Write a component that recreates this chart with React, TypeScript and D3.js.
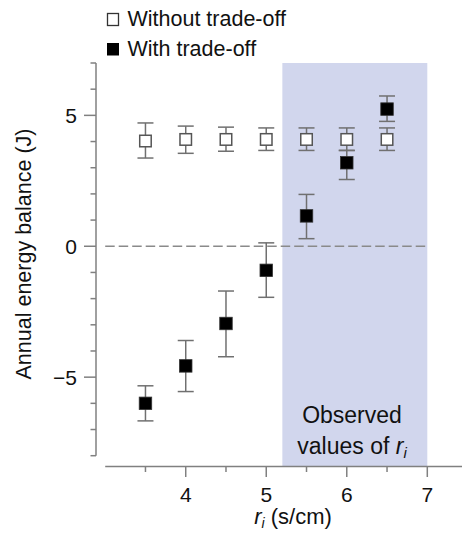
import React from "react";
import * as d3 from "d3";

const xValues = [3.5, 4.0, 4.5, 5.0, 5.5, 6.0, 6.5];
const withoutMean = [4.02, 4.08, 4.08, 4.08, 4.08, 4.08, 4.08];
const withoutLow = [3.37, 3.55, 3.63, 3.66, 3.66, 3.66, 3.66];
const withoutHigh = [4.71, 4.59, 4.55, 4.52, 4.52, 4.52, 4.52];
const withMean = [-6.0, -4.57, -2.95, -0.92, 1.16, 3.19, 5.24];
const withLow = [-6.67, -5.55, -4.22, -1.95, 0.29, 2.55, 4.77];
const withHigh = [-5.33, -3.6, -1.71, 0.13, 1.98, 3.66, 5.74];
const xMajorTicks = [4, 5, 6, 7];
const xMinorTicks = [3.5, 4.5, 5.5, 6.5];
const yMajorTicks = [-5, 0, 5];
const shadeRange = [5.2, 7.0];
const legendLabels = ["Without trade-off", "With trade-off"];

const W = 462;
const H = 539;
const FONT = "'Liberation Sans', Arial, Helvetica, sans-serif";

export default function App() {
  const x = d3.scaleLinear().domain([3, 7]).range([105.2, 427.3]);
  const y = d3.scaleLinear().domain([-8, 7]).range([455.7, 63]);
  const yMinor = d3.range(-8, 8);
  const axisColor = "#808080";
  const errColor = "#707070";
  const capW = 16;
  const sq = 12.5;
  const xAxisY = 466.5;
  const yAxisX = 96;

  const renderErr = (i: number, lo: number[], hi: number[], key: string) => {
    const cx = x(xValues[i]);
    return (
      <g key={key}>
        <line x1={cx} x2={cx} y1={y(lo[i])} y2={y(hi[i])} stroke={errColor} strokeWidth={1.5} />
        <line x1={cx - capW / 2} x2={cx + capW / 2} y1={y(lo[i])} y2={y(lo[i])} stroke={errColor} strokeWidth={1.5} />
        <line x1={cx - capW / 2} x2={cx + capW / 2} y1={y(hi[i])} y2={y(hi[i])} stroke={errColor} strokeWidth={1.5} />
      </g>
    );
  };

  return (
    <svg width={W} height={H} style={{ position: "absolute", left: 0, top: 0 }} fontFamily={FONT}>
      <rect width={W} height={H} fill="#fff" />
      {/* shaded region */}
      <rect
        x={x(shadeRange[0])}
        y={y(7)}
        width={x(shadeRange[1]) - x(shadeRange[0])}
        height={xAxisY - y(7)}
        fill="#d1d6ed"
      />
      {/* zero dashed line */}
      <line x1={x(3)} x2={x(7)} y1={y(0)} y2={y(0)} stroke="#8a8a8a" strokeWidth={1.5} strokeDasharray="9.5,4" />

      {/* y axis */}
      <line x1={yAxisX} x2={yAxisX} y1={y(7)} y2={y(-8)} stroke={axisColor} strokeWidth={1.5} />
      {yMinor.map((v) => (
        <line
          key={"ym" + v}
          x1={yMajorTicks.includes(v) ? yAxisX - 12 : yAxisX - 5.5}
          x2={yAxisX}
          y1={y(v)}
          y2={y(v)}
          stroke={axisColor}
          strokeWidth={1.5}
        />
      ))}
      {yMajorTicks.map((v) => (
        <text key={"yl" + v} x={yAxisX - 19} y={y(v)} dy="0.36em" textAnchor="end" fontSize={21} fill="#111">
          {v < 0 ? "\u2212" + Math.abs(v) : v}
        </text>
      ))}
      <text
        transform={`translate(23.5, ${254}) rotate(-90)`}
        textAnchor="middle"
        dy="0.35em"
        fontSize={21.5}
        fill="#111"
      >
        Annual energy balance (J)
      </text>

      {/* x axis */}
      <line x1={x(3)} x2={W} y1={xAxisY} y2={xAxisY} stroke={axisColor} strokeWidth={1.5} />
      {xMajorTicks.map((v) => (
        <line key={"xt" + v} x1={x(v)} x2={x(v)} y1={xAxisY} y2={xAxisY + 10.5} stroke={axisColor} strokeWidth={1.5} />
      ))}
      {xMinorTicks.map((v) => (
        <line key={"xm" + v} x1={x(v)} x2={x(v)} y1={xAxisY} y2={xAxisY + 5.5} stroke={axisColor} strokeWidth={1.5} />
      ))}
      {xMajorTicks.map((v) => (
        <text key={"xl" + v} x={x(v)} y={501.5} textAnchor="middle" fontSize={21} fill="#111">
          {v}
        </text>
      ))}
      <text x={293} y={524} textAnchor="middle" fontSize={22} fill="#111">
        <tspan fontStyle="italic">r</tspan>
        <tspan fontStyle="italic" fontSize={14} dy={4}>i</tspan>
        <tspan dy={-4}> (s/cm)</tspan>
      </text>

      {/* annotation */}
      <text x={352} y={422.5} textAnchor="middle" fontSize={23} fill="#111">
        Observed
      </text>
      <text x={352} y={454} textAnchor="middle" fontSize={23} fill="#111">
        values of <tspan fontStyle="italic">r</tspan>
        <tspan fontStyle="italic" fontSize={15} dy={4}>i</tspan>
      </text>

      {/* with trade-off error bars & squares */}
      {xValues.map((_, i) => renderErr(i, withLow, withHigh, "we" + i))}
      {xValues.map((v, i) => (
        <rect
          key={"ws" + i}
          x={x(v) - sq / 2}
          y={y(withMean[i]) - sq / 2}
          width={sq}
          height={sq}
          fill="#000"
          stroke="#333"
          strokeWidth={0.8}
        />
      ))}
      {/* without trade-off */}
      {xValues.map((_, i) => renderErr(i, withoutLow, withoutHigh, "oe" + i))}
      {xValues.map((v, i) => (
        <rect
          key={"os" + i}
          x={x(v) - sq / 2 + 0.5}
          y={y(withoutMean[i]) - sq / 2 + 0.5}
          width={sq - 1}
          height={sq - 1}
          fill="#fff"
          stroke="#555"
          strokeWidth={1.5}
        />
      ))}

      {/* legend */}
      <rect x={107.5} y={13.5} width={11} height={12} fill="#fff" stroke="#333" strokeWidth={1.3} />
      <text x={127.5} y={25.5} fontSize={21.5} fill="#111">
        {legendLabels[0]}
      </text>
      <rect x={107} y={43} width={12} height={12.5} fill="#000" />
      <text x={127.5} y={55.5} fontSize={21.5} fill="#111">
        {legendLabels[1]}
      </text>
    </svg>
  );
}
